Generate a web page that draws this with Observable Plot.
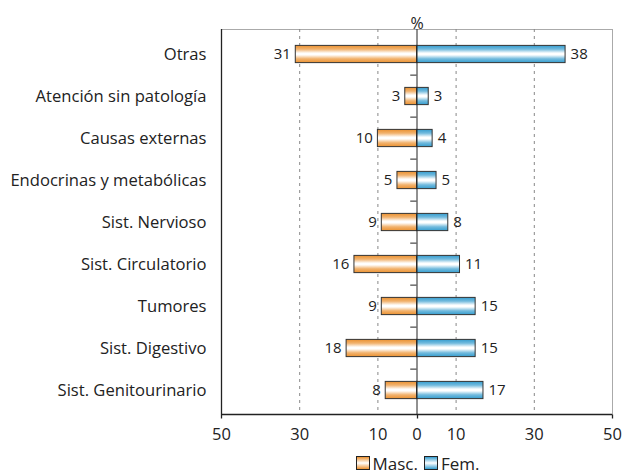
<!DOCTYPE html>
<html><head><meta charset="utf-8">
<script src="https://cdn.jsdelivr.net/npm/d3@7"></script>
<script src="https://cdn.jsdelivr.net/npm/@observablehq/plot@0.6"></script>
<style>
body{margin:0;background:#fff;font-family:"Open Sans",sans-serif;}
#legend{width:623px;height:26px;display:flex;justify-content:center;align-items:center;font-size:17px;color:#222;padding-left:212px;box-sizing:border-box;}
.sw{display:inline-block;width:12px;height:12px;border:1px solid #222;margin-right:3px;}
.it{display:flex;align-items:center;margin:0 3px;}
</style>
</head><body><div id="chart"></div><div id="legend"></div><script>
const categories = ["Otras","Atención sin patología","Causas externas","Endocrinas y metabólicas","Sist. Nervioso","Sist. Circulatorio","Tumores","Sist. Digestivo","Sist. Genitourinario"];
const masc = [31,3,10,5,9,16,9,18,8];
const fem = [38,3,4,5,8,11,15,15,17];
const xTicks = [-50,-30,-10,0,10,30,50];
const tickMarkValues = [-50,0,50];
const gridValues = [-30,-10,10,30];
const seriesNames = ["Masc.","Fem."];
const colorMasc = "#EB9130";
const colorFem = "#359DCF";

const rows = categories.map((c,i)=>({cat:c, masc:masc[i], fem:fem[i]}));

function gradients(){
  const defs = d3.create("svg:defs");
  for (const [id,c] of [["gm",colorMasc],["gf",colorFem]]) {
    const g = defs.append("linearGradient").attr("id",id).attr("x1",0).attr("y1",0).attr("x2",0).attr("y2",1);
    const lc = d3.interpolateRgb(c,"#fff");
    [[0,c],[0.22,lc(0.3)],[0.45,"#fff"],[0.55,"#fff"],[0.78,lc(0.3)],[1,c]].forEach(([o,col])=>g.append("stop").attr("offset",o).attr("stop-color",col));
  }
  return defs.node();
}

const W = 623, H = 450, mt = 29, mb = H-414, ml = 221, mr = 11;
const band = (414-mt)/categories.length;
const inset = (band-18)/2;
const xScale = d3.scaleLinear([-50,50],[ml, W-mr]);

function axisLines(){
  const g = d3.create("svg:g").attr("stroke","#222").attr("stroke-width",1.3).attr("fill","none");
  const yb = H - mb + 0.5;
  g.append("line").attr("x1",ml).attr("x2",W-mr).attr("y1",yb).attr("y2",yb);
  g.append("line").attr("x1",ml+0.5).attr("x2",ml+0.5).attr("y1",mt).attr("y2",yb);
  for (const v of tickMarkValues) {
    const x = Math.round(xScale(v)) + 0.5;
    g.append("line").attr("x1",x).attr("x2",x).attr("y1",yb).attr("y2",yb+4);
  }
  return g.node();
}

const chart = Plot.plot({
  width:W, height:H,
  marginLeft:ml, marginRight:mr, marginTop:mt, marginBottom:mb,
  style:{fontFamily:'"Open Sans",sans-serif', color:"#222", background:"#fff"},
  x:{domain:[-50,50], label:null},
  y:{domain:categories, padding:0, label:null},
  marks:[
    gradients,
    Plot.frame({stroke:"#aaa"}),
    Plot.ruleX(gridValues,{stroke:"#888", strokeDasharray:"3,4"}),
    Plot.axisX({ticks:xTicks, tickFormat:d=>Math.abs(d), tickSize:0, tickPadding:14, fontSize:16.5, label:null}),
    Plot.axisY({tickSize:0, tickPadding:15, fontSize:16.6, label:null}),
    Plot.barX(rows,{y:"cat", x1:0, x2:d=>-d.masc, fill:"url(#gm)", stroke:"#333", strokeWidth:1, insetTop:inset, insetBottom:inset}),
    Plot.barX(rows,{y:"cat", x1:0, x2:"fem", fill:"url(#gf)", stroke:"#333", strokeWidth:1, insetTop:inset, insetBottom:inset}),
    Plot.ruleX([0],{stroke:"#222"}),
    Plot.ruleY(categories.slice(1),{x1:-1.6, x2:0, dy:-band/2, stroke:"#222"}),
    axisLines,
    Plot.text(rows,{y:"cat", x:d=>-d.masc, text:d=>String(d.masc), textAnchor:"end", dx:-5, fontSize:15, fill:"#222"}),
    Plot.text(rows,{y:"cat", x:"fem", text:d=>String(d.fem), textAnchor:"start", dx:5, fontSize:15, fill:"#222"}),
    Plot.text(["%"],{x:0, text:d=>d, frameAnchor:"top", dy:-12, fontSize:16, fill:"#222"})
  ]
});
document.getElementById("chart").appendChild(chart);

const lg = document.getElementById("legend");
[[seriesNames[0],colorMasc],[seriesNames[1],colorFem]].forEach(([n,c])=>{
  const it = document.createElement("span"); it.className="it";
  const sw = document.createElement("span"); sw.className="sw";
  sw.style.background = `linear-gradient(to bottom, ${c} 0%, #fff 50%, ${c} 100%)`;
  it.appendChild(sw);
  const t = document.createElement("span"); t.textContent = n; it.appendChild(t);
  lg.appendChild(it);
});
</script></body></html>
